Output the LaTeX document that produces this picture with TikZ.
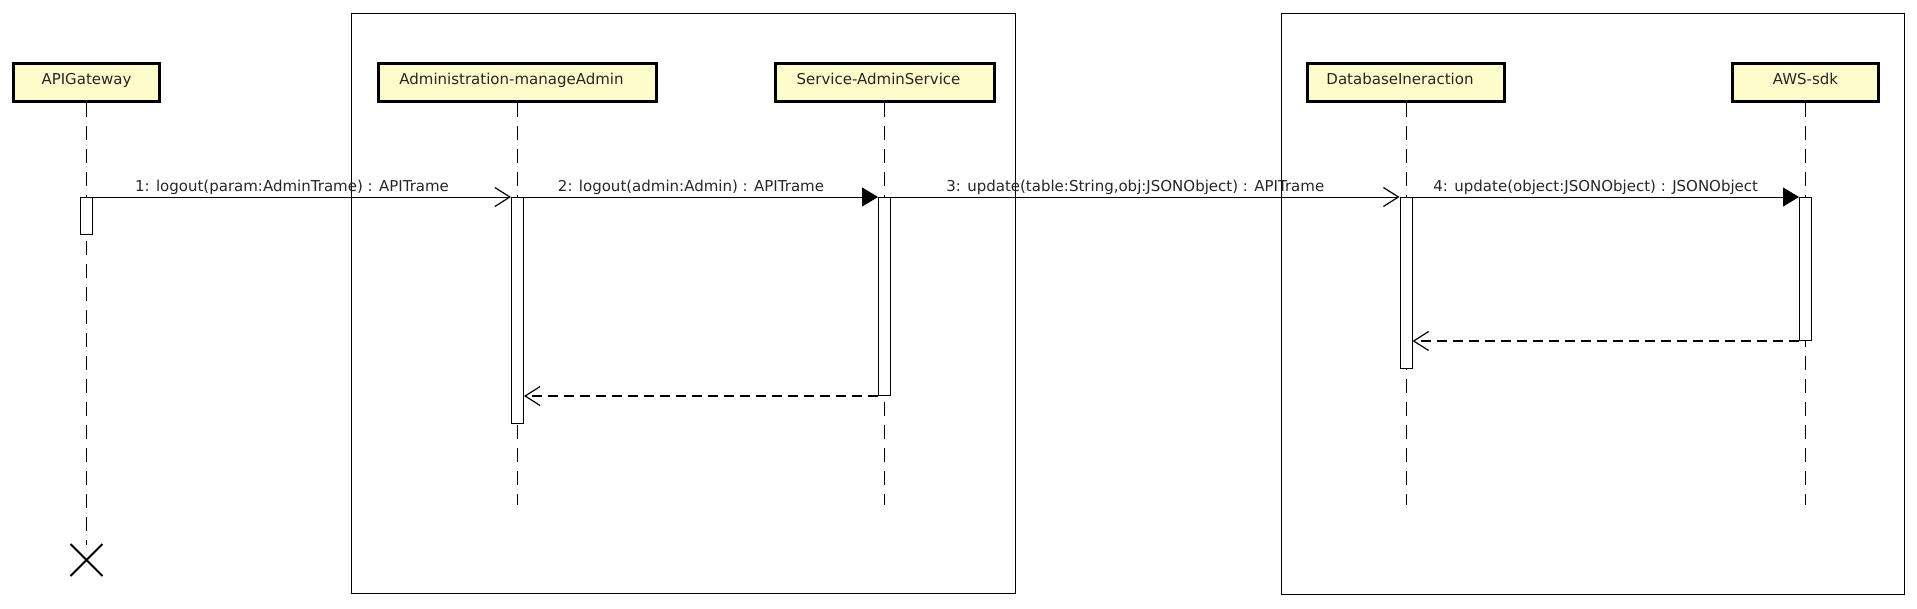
\documentclass[tikz,border=0pt]{standalone}
\usepackage{fontspec}
\setmainfont{DejaVu Sans}
\usetikzlibrary{arrows.meta, positioning, shapes.misc}

\begin{document}
\begin{tikzpicture}[
    x=1pt, y=-1pt,
    every node/.style={font=\fontsize{15}{18}\selectfont, text=black!85},
    lifebox/.style={draw, line width=3pt, fill=yellow!20, minimum height=38pt,
                    inner sep=0pt, text height=11pt, text depth=8pt},
    act/.style    ={draw, fill=white, line width=1pt, minimum width=12pt,
                    inner sep=0pt, anchor=north},
    lifeline/.style={line width=0.8pt, dash pattern=on 14pt off 9pt},
    frame/.style  ={line width=1pt},
    async/.style  ={-{Straight Barb[length=15pt, width=19pt, line width=1.2pt]}, line width=1pt},
    sync/.style   ={-{Triangle[length=16pt, width=19pt]}, line width=1pt},
    reply/.style  ={-{Straight Barb[length=15pt, width=19pt, line width=1.2pt]}, line width=1.3pt,
                    dash pattern=on 10pt off 6pt},
    lbl/.style    ={above, inner sep=2pt, xshift=-10pt}
]
\useasboundingbox (0,0) rectangle (1917,608);

%% ── Frames ───────────────────────────────────────────────────────
\draw[frame] (351,13)  rectangle (1015,593);
\draw[frame] (1281,13) rectangle (1904,594);

%% ── Lifeline heads ───────────────────────────────────────────────
\node[lifebox, minimum width=146pt] (api)   at (86.5,82.5)  {APIGateway};
\node[lifebox, minimum width=278pt] (admin) at (517.5,82.5) {\hspace*{-12pt}Administration-manageAdmin};
\node[lifebox, minimum width=219pt] (svc)   at (884.5,82.5) {\hspace*{-12pt}Service-AdminService};
\node[lifebox, minimum width=197pt] (db)    at (1406,82.5)  {\hspace*{-12pt}DatabaseIneraction};
\node[lifebox, minimum width=146pt] (aws)   at (1805.5,82.5){AWS-sdk};

%% ── Lifeline ends ────────────────────────────────────────────────
\coordinate (apiEnd)   at (86.5,545);
\coordinate (adminEnd) at (517.5,505);
\coordinate (svcEnd)   at (884.5,505);
\coordinate (dbEnd)    at (1406,505);
\coordinate (awsEnd)   at (1805.5,505);

\draw[lifeline] (api.south)   -- (apiEnd);
\draw[lifeline] (admin.south) -- (adminEnd);
\draw[lifeline] (svc.south)   -- (svcEnd);
\draw[lifeline] (db.south)    -- (dbEnd);
\draw[lifeline] (aws.south)   -- (awsEnd);

%% ── Destruction ──────────────────────────────────────────────────
\node[cross out, draw, line width=2pt, minimum size=30pt, inner sep=0pt] (apiKill) at (86.5,560) {};

%% ── Activations ──────────────────────────────────────────────────
\node[act, minimum height=37pt]  (actApi)   at (86.5,197)  {};
\node[act, minimum height=226pt] (actAdmin) at (517.5,197) {};
\node[act, minimum height=198pt] (actSvc)   at (884.5,197) {};
\node[act, minimum height=171pt] (actDb)    at (1406,197)  {};
\node[act, minimum height=143pt] (actAws)   at (1805.5,197){};

%% ── Messages ─────────────────────────────────────────────────────
\draw[async] (actApi.north east)   -- node[lbl]{1: logout(param:AdminTrame) : APITrame} (actAdmin.north west);
\draw[sync]  (actAdmin.north east) -- node[lbl]{2: logout(admin:Admin) : APITrame} (actSvc.north west);
\draw[async] (actSvc.north east)   -- node[lbl]{3: update(table:String,obj:JSONObject) : APITrame} (actDb.north west);
\draw[sync]  (actDb.north east)    -- node[lbl]{4: update(object:JSONObject) : JSONObject} (actAws.north west);

%% ── Replies ──────────────────────────────────────────────────────
\draw[reply] (actAws.south west) -- (actAws.south west -| actDb.east);
\draw[reply] (actSvc.south west) -- (actSvc.south west -| actAdmin.east);

\end{tikzpicture}
\end{document}
